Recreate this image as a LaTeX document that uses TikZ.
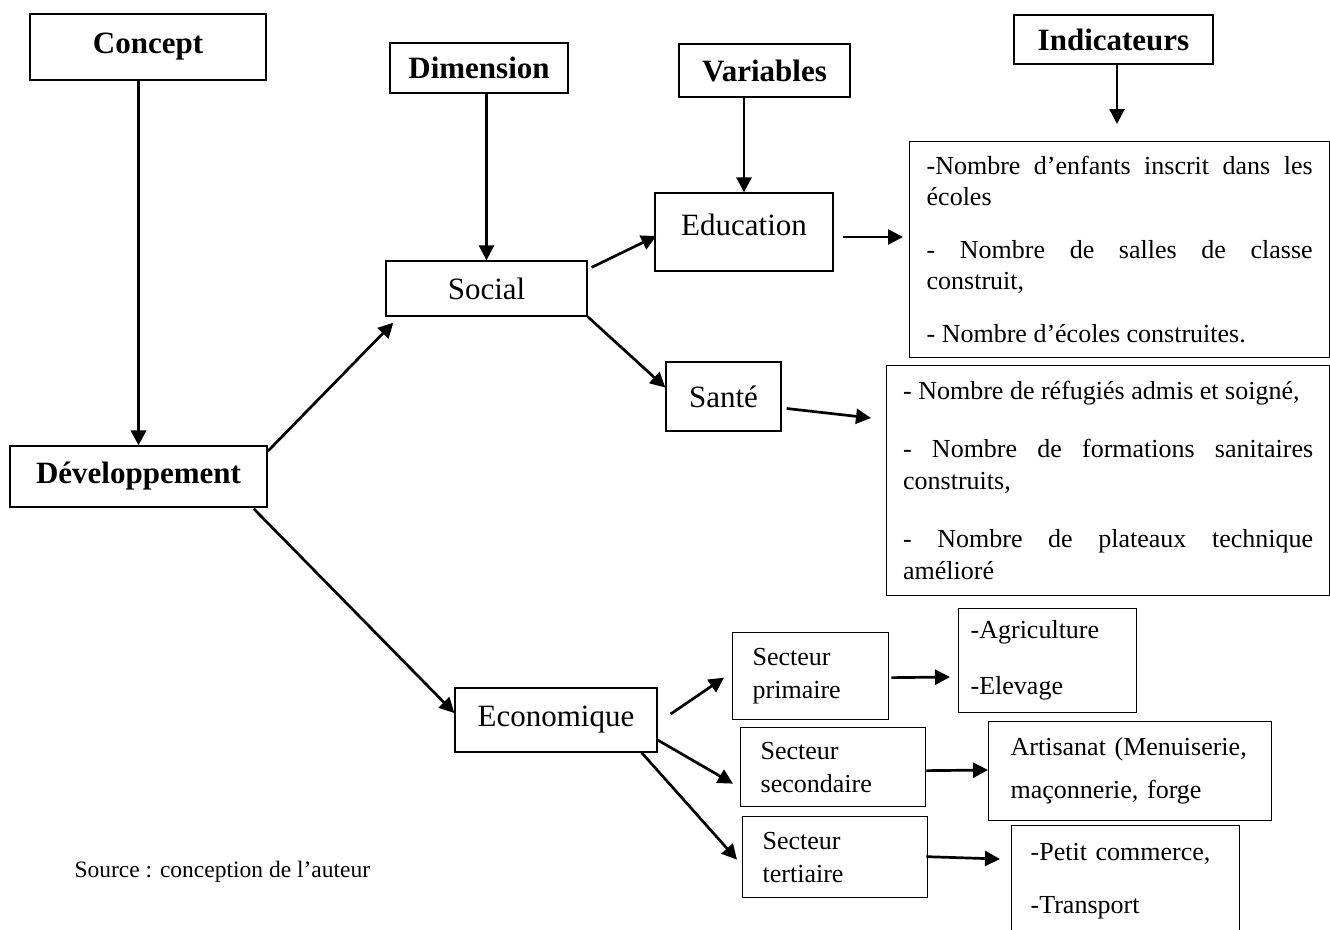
\documentclass[tikz,border=0pt]{standalone}
\usepackage{fontspec}
\setmainfont{Liberation Serif}
\usetikzlibrary{arrows.meta,calc}
\begin{document}
\begin{tikzpicture}[x=1pt,y=-1pt,
 box/.style={draw, line width=1.3pt, inner sep=0pt, rectangle},
 hdr/.style={box, font=\fontsize{31}{36}\selectfont\bfseries},
 lbl/.style={box, font=\fontsize{31}{36}\selectfont},
 sm/.style={box, font=\fontsize{26}{33}\selectfont, align=left, anchor=north west},
 ind/.style={box, anchor=north west},
 arr/.style={line width=2.7pt, -{Triangle[length=15pt,width=15pt]}},
]
\useasboundingbox (0,0) rectangle (1330,929);
% headers
\node[hdr, minimum width=236, minimum height=66] (concept) at (148,47) {Concept};
\node[hdr, minimum width=178, minimum height=50] (dim) at (479,68) {Dimension};
\node[hdr, minimum width=171, minimum height=53] (var) at (764.5,70.5) {Variables};
\node[hdr, minimum width=199, minimum height=49] (indh) at (1113.5,39.5) {Indicateurs};
% main nodes
\node[hdr, minimum width=257, minimum height=61] (dev) at (138.5,476.5) {Développement};
\node[lbl, minimum width=201, minimum height=55] (soc) at (486.5,288.5) {Social};
\node[lbl, minimum width=178, minimum height=78, text height=22pt, text depth=16pt] (edu) at (744,232) {Education};
\node[lbl, minimum width=115, minimum height=69] (san) at (723.5,396.5) {Santé};
\node[lbl, minimum width=202, minimum height=64] (eco) at (556,720) {Economique};
% indicator boxes
\node[ind, minimum width=420, minimum height=216] (ind1) at (909,141) {%
\begin{minipage}{386pt}\fontsize{26}{31}\selectfont\setlength\parskip{22pt}\hyphenpenalty=10000\exhyphenpenalty=10000
-Nombre d’enfants inscrit dans les\linebreak écoles\par
- Nombre de salles de classe\linebreak construit,\par
- Nombre d’écoles construites.\end{minipage}};
\node[ind, minimum width=443, minimum height=230] (ind2) at (886,365) {%
\begin{minipage}{410pt}\fontsize{26}{32}\selectfont\setlength\parskip{26pt}\hyphenpenalty=10000\exhyphenpenalty=10000
- Nombre de réfugiés admis et soigné,\par
- Nombre de formations sanitaires\linebreak construits,\par
- Nombre de plateaux technique\linebreak amélioré\end{minipage}};
% sector boxes
\node[sm, minimum height=87, inner xsep=20pt, text width=116pt] (prim) at (732,632) {\mbox{Secteur}\\\mbox{primaire}};
\node[sm, minimum height=79, inner xsep=20pt, text width=145pt] (sec) at (740,727) {\mbox{Secteur}\\\mbox{secondaire}};
\node[sm, minimum height=81, inner xsep=20pt, text width=145pt] (tert) at (742,816) {\mbox{Secteur}\\\mbox{tertiaire}};
\node[sm, minimum height=104, inner xsep=12pt, text width=154pt] (agri) at (958,608) {\mbox{-Agriculture}\\[23pt]\mbox{-Elevage}};
\node[sm, minimum height=99, inner xsep=22pt, text width=239pt] (art) at (988,721) {\mbox{Artisanat (Menuiserie,}\\[10pt]\mbox{maçonnerie, forge}};
\node[sm, minimum height=110, inner xsep=19pt, text width=190pt] (pc) at (1011,825) {\mbox{-Petit commerce,}\\[20pt]\mbox{-Transport}};
% source
\node[anchor=west, font=\fontsize{23.5}{28}\selectfont] (src) at (71,872) {Source : conception de l’auteur};
% arrows
\coordinate (indend) at (1117,124);
\draw[arr, line width=3.6pt] (dev.north |- concept.south) -- (dev.north);
\draw[arr] (soc.north |- dim.south) -- (soc.north);
\draw[arr] (edu.north |- var.south) -- (edu.north);
\draw[arr] (indh.south -| indend) -- (indend);
\draw[arr] ($(dev.north east)+(0,6)$) -- ($(soc.south west)+(8,6)$);
\draw[arr] ($(dev.south east)+(-14,1)$) -- ($(eco.west)+(0,-7)$);
\draw[arr] ($(soc.north east)+(4,7)$) -- ($(edu.west)+(2,4)$);
\draw[arr] (soc.south east) -- ($(san.west)+(0,-9)$);
\draw[arr] ($(san.east)+(5,12)$) -- ($(ind2.north west)+(-15,53)$);
\draw[arr] ($(edu.east)+(9,5)$) -- ($(ind1.north west)+(-6,96)$);
\draw[arr] ($(eco.east)+(13,-6)$) -- ($(prim.west)+(-8,1.5)$);
\draw[arr] ($(eco.east)+(0,20)$) -- ($(sec.west)+(-7,16.5)$);
\draw[arr] ($(eco.south east)+(-16,0)$) -- ($(tert.west)+(-5,2.5)$);
\draw[arr] ($(prim.east)+(2,1.5)$) -- ($(agri.north west)+(-8,69)$);
\draw[arr] ($(sec.east)+(0,3.5)$) -- ($(art.north west)+(0,49)$);
\draw[arr] ($(tert.east)+(-2,-0.5)$) -- ($(pc.north west)+(-11,34)$);
\end{tikzpicture}
\end{document}
